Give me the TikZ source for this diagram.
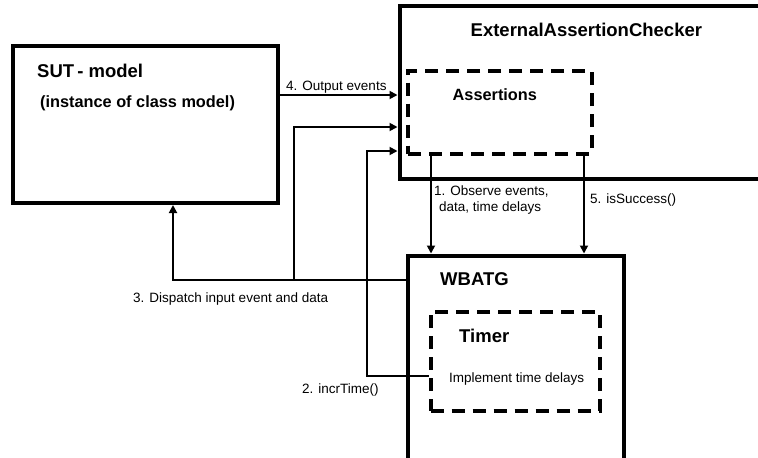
\documentclass[tikz,border=0pt]{standalone}
\usepackage{fontspec}
\setmainfont{Liberation Sans}
\usetikzlibrary{arrows.meta,positioning,calc}

\tikzset{
  box/.style={draw, line width=4pt, inner sep=0pt},
  dbox/.style={draw, line width=4pt, dash pattern=on 13pt off 8pt, inner sep=0pt},
  title/.style={font=\bfseries\fontsize{18.5}{20}\selectfont, inner sep=0pt, anchor=base west},
  sub/.style={font=\bfseries\fontsize{16.3}{18}\selectfont, inner sep=0pt, anchor=base west},
  lbl/.style={font=\fontsize{13.5}{15.5}\selectfont, inner sep=0pt, anchor=base west},
  arr/.style={line width=1.8pt, -{Triangle[length=8pt,width=8pt]}}
}

\begin{document}
\begin{tikzpicture}[x=1pt,y=-1pt]
\useasboundingbox (0,0) rectangle (758,458);

% Boxes
\node[box, minimum width=264.5pt, minimum height=157pt] (sut) at (145.25,124.5) {};
\node[box, minimum width=400.5pt, minimum height=173.5pt] (eac) at (599.75,92.55) {};
\node[dbox, minimum width=183.2pt, minimum height=83.5pt] (assert) at (499.9,112.25) {};
\node[box, minimum width=215.2pt, minimum height=224.5pt] (wbatg) at (515.9,367.75) {};
\node[dbox, minimum width=169pt, minimum height=99.5pt] (timer) at (515,361.25) {};

% Titles
\node[title] (sutT) at (37,77) {SUT\,- model};
\node[sub] (sutS) at (40,107) {(instance of class model)};
\node[title] (eacT) at (470.5,36.5) {ExternalAssertionChecker};
\node[sub] (assT) at (452.5,100) {Assertions};
\node[title] (wbT) at (440,285) {WBATG};
\node[title] (timT) at (459,342.5) {Timer};
\node[lbl] (timS) at (449,382) {Implement time delays};

% Connectors
\draw[arr] (sut.east |- 0,95) -- (eac.west |- 0,95);
\draw[arr] (wbatg.west |- 0,280) -| (sut.south -| 173,0);
\coordinate (dj) at (294,280);
\draw[arr] (dj) |- (eac.west |- 0,127);
\draw[arr] (timer.west |- 0,376) -| (367,151) -- (eac.west |- 0,151);
\draw[arr] (assert.south -| 431,0) -- (wbatg.north -| 431,0);
\draw[arr] (assert.south -| 584,0) -- (wbatg.north -| 584,0);

% Labels
\node[lbl] (l4) at (286,90) {4. Output events};
\node[lbl] (l1a) at (434,195) {1. Observe events,};
\node[lbl] (l1b) at (439,211) {data, time delays};
\node[lbl] (l5) at (590,203) {5. isSuccess()};
\node[lbl] (l3) at (133,302) {3. Dispatch input event and data};
\node[lbl] (l2) at (302,393) {2. incrTime()};
\end{tikzpicture}
\end{document}
